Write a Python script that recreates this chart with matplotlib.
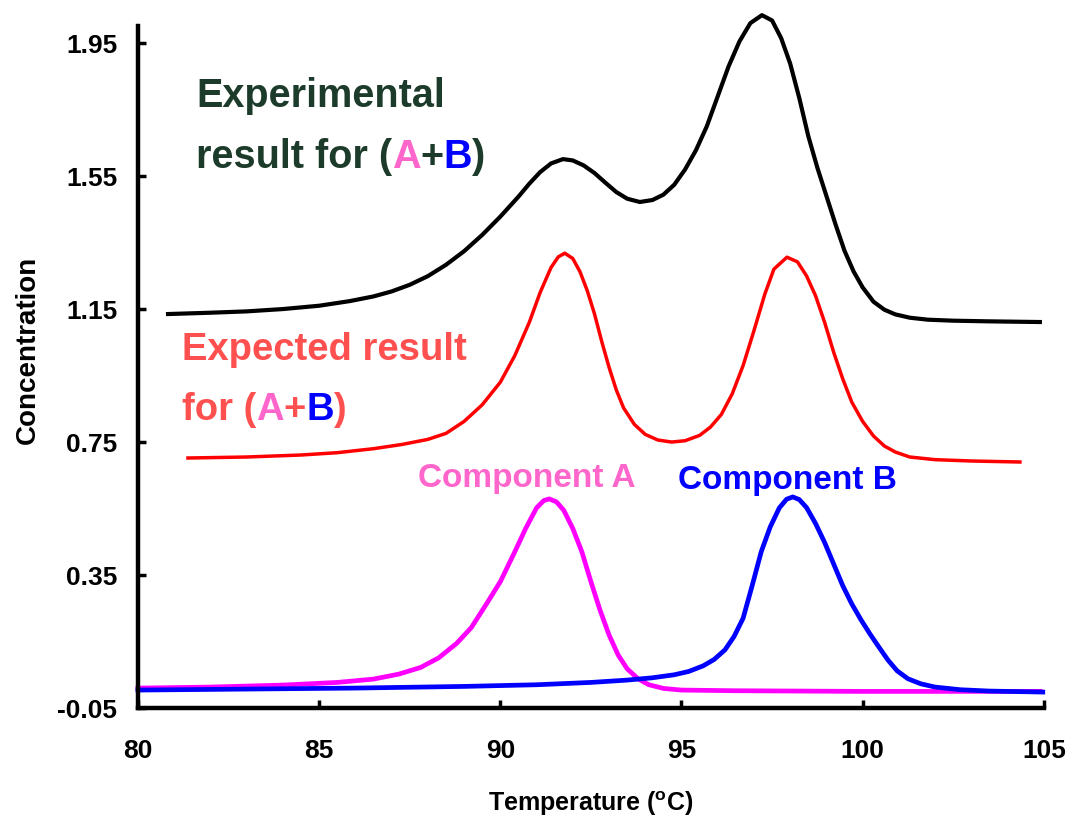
import matplotlib
matplotlib.use('Agg')
import matplotlib.pyplot as plt

plt.rcParams['font.family'] = ['Liberation Sans', 'DejaVu Sans']
plt.rcParams['font.weight'] = 'bold'

# experimental melting curve for the mixture
exp_t = [80.83, 82.0, 83.0, 84.0, 85.0, 85.85, 86.5, 87.0, 87.5, 88.0, 88.5, 89.0, 89.5,
         90.0, 90.5, 90.8, 91.1, 91.4, 91.73, 92.0, 92.3, 92.6, 92.9, 93.2, 93.5, 93.85,
         94.2, 94.5, 94.8, 95.1, 95.4, 95.7, 96.0, 96.3, 96.6, 96.9, 97.22, 97.5, 97.75,
         98.0, 98.25, 98.5, 98.75, 99.0, 99.25, 99.5, 99.75, 100.0, 100.3, 100.6, 100.9,
         101.3, 101.8, 102.5, 103.5, 104.89]
exp_c = [1.135, 1.139, 1.143, 1.15, 1.16, 1.174, 1.188, 1.203, 1.223, 1.249, 1.283, 1.324,
         1.373, 1.428, 1.488, 1.527, 1.562, 1.588, 1.601, 1.597, 1.582, 1.559, 1.53, 1.502,
         1.482, 1.472, 1.478, 1.494, 1.524, 1.57, 1.628, 1.7, 1.79, 1.88, 1.955, 2.01,
         2.034, 2.018, 1.965, 1.888, 1.785, 1.67, 1.575, 1.49, 1.405, 1.325, 1.263, 1.215,
         1.172, 1.148, 1.134, 1.124, 1.118, 1.115, 1.113, 1.111]

# expected curve (sum of the two components, shifted up)
sum_t = [81.38, 83.0, 84.5, 85.5, 86.5, 87.3, 88.0, 88.5, 89.0, 89.5, 90.0, 90.4, 90.8,
         91.1, 91.4, 91.6, 91.78, 92.0, 92.2, 92.4, 92.6, 92.8, 93.0, 93.2, 93.4, 93.7,
         94.0, 94.35, 94.73, 95.1, 95.5, 95.8, 96.1, 96.4, 96.7, 97.0, 97.3, 97.55, 97.91,
         98.2, 98.45, 98.7, 98.95, 99.2, 99.45, 99.7, 100.0, 100.3, 100.6, 100.9, 101.3,
         102.0, 103.0, 104.34]
sum_c = [0.702, 0.705, 0.711, 0.718, 0.73, 0.743, 0.758, 0.776, 0.812, 0.862, 0.93, 1.01,
         1.11, 1.2, 1.275, 1.307, 1.318, 1.302, 1.262, 1.205, 1.135, 1.052, 0.975, 0.907,
         0.853, 0.803, 0.773, 0.756, 0.75, 0.754, 0.77, 0.795, 0.833, 0.895, 0.98, 1.085,
         1.195, 1.27, 1.306, 1.292, 1.25, 1.19, 1.11, 1.02, 0.94, 0.87, 0.812, 0.768,
         0.738, 0.72, 0.705, 0.697, 0.693, 0.69]

# component A
a_t = [80.0, 82.0, 84.0, 85.5, 86.5, 87.2, 87.8, 88.3, 88.8, 89.2, 89.6, 90.0, 90.4, 90.7,
       91.0, 91.2, 91.35, 91.55, 91.75, 92.0, 92.25, 92.5, 92.75, 93.0, 93.25, 93.5, 93.8,
       94.1, 94.5, 95.0, 96.5, 100.0, 104.9]
a_c = [0.01, 0.013, 0.019, 0.027, 0.037, 0.052, 0.072, 0.101, 0.145, 0.192, 0.26, 0.33,
       0.42, 0.49, 0.552, 0.574, 0.579, 0.57, 0.545, 0.49, 0.42, 0.33, 0.245, 0.17, 0.11,
       0.068, 0.038, 0.02, 0.009, 0.004, 0.002, 0.0, 0.0]

# component B
b_t = [80.0, 83.0, 86.0, 89.0, 91.0, 92.5, 93.5, 94.2, 94.8, 95.2, 95.6, 95.9, 96.2, 96.45,
       96.7, 96.95, 97.2, 97.45, 97.7, 97.9, 98.07, 98.25, 98.45, 98.7, 98.95, 99.2, 99.45,
       99.7, 99.95, 100.2, 100.45, 100.7, 100.95, 101.25, 101.6, 102.0, 102.7, 103.5, 104.97]
b_c = [0.004, 0.007, 0.01, 0.015, 0.02, 0.027, 0.034, 0.041, 0.05, 0.06, 0.077, 0.096,
       0.125, 0.165, 0.22, 0.318, 0.42, 0.495, 0.552, 0.578, 0.585, 0.577, 0.553, 0.505,
       0.448, 0.383, 0.318, 0.263, 0.216, 0.173, 0.133, 0.094, 0.062, 0.038, 0.023, 0.013,
       0.005, 0.001, -0.002]

x_ticks = [80, 85, 90, 95, 100, 105]
y_ticks = [-0.05, 0.35, 0.75, 1.15, 1.55, 1.95]

fig = plt.figure(figsize=(10.67, 8.19), dpi=100)
ax = fig.add_axes([0.1293, 0.1355, 0.849, 0.8322])

ax.plot(exp_t, exp_c, color='black', lw=3, clip_on=False)
ax.plot(sum_t, sum_c, color='#ff0000', lw=2.5, clip_on=False)
ax.plot(a_t, a_c, color='#ff00ff', lw=3.4, clip_on=False)
ax.plot(b_t, b_c, color='#0000ff', lw=3.4, clip_on=False)

ax.set_xlim(80, 105)
ax.set_ylim(-0.05, 2.0)
ax.set_xticks(x_ticks)
ax.set_yticks(y_ticks)
ax.set_yticklabels(['%.2f' % v for v in y_ticks])

for side in ['top', 'right']:
    ax.spines[side].set_visible(False)
for side in ['left', 'bottom']:
    ax.spines[side].set_linewidth(3.2)
ax.tick_params(direction='in', length=6, width=2.5, labelsize=19)
ax.tick_params(axis='y', pad=15)
ax.tick_params(axis='x', pad=22)

ax.set_xlabel(r'Temperature ($\mathregular{^o}$C)', fontsize=18, fontweight='bold')
ax.xaxis.set_label_coords(0.5, -0.12)
ax.set_ylabel('Concentration', fontsize=20, fontweight='bold')
ax.yaxis.set_label_coords(-0.107, 0.525)


def colour_text(x, y, parts, size):
    # draw a line made of differently coloured pieces, each one after the last
    first = ax.text(x, y, parts[0][0], color=parts[0][1], fontsize=size,
                    fontweight='bold', transform=ax.transAxes, va='baseline')
    prev = first
    for s, c in parts[1:]:
        prev = ax.annotate(s, xy=(1, 0), xycoords=prev, va='bottom', ha='left',
                           color=c, fontsize=size, fontweight='bold')
    return first


green = '#1d3b2a'
pink = '#ff66cc'
salmon = '#ff5050'

colour_text(0.064, 0.882, [('Experimental', green)], 28.5)
colour_text(0.064, 0.792, [('result for (', green), ('A', pink), ('+', green),
                           ('B', '#0000ff'), (')', green)], 28.5)

colour_text(0.0486, 0.5106, [('Expected result', salmon)], 27.5)
colour_text(0.0486, 0.4225, [('for (', salmon), ('A', pink), ('+', salmon),
                             ('B', '#0000ff'), (')', salmon)], 27.5)

colour_text(0.309, 0.324, [('Component A', pink)], 24)
colour_text(0.596, 0.321, [('Component B', '#0000ff')], 24)

fig.savefig('out.png', dpi=100)
